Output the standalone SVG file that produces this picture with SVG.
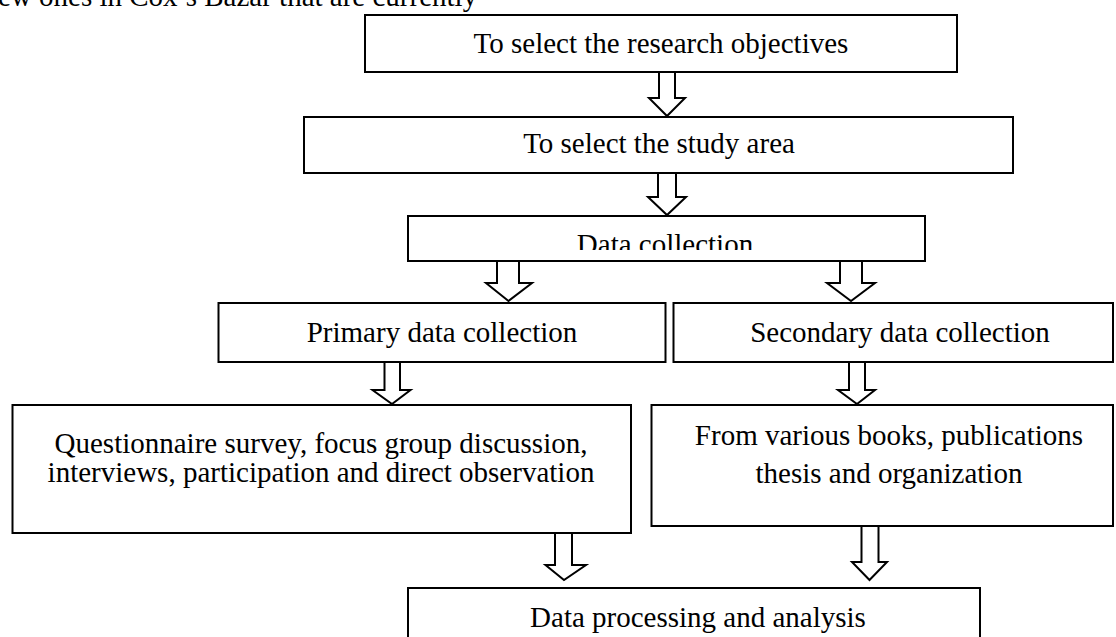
<svg xmlns="http://www.w3.org/2000/svg" width="1116" height="637" viewBox="0 0 1116 637">
<style>
.box{fill:#fff;stroke:#000;stroke-width:2}
.arr{fill:#fff;stroke:#000;stroke-width:2;stroke-linejoin:miter}
text{font-family:"Liberation Serif","Times New Roman",serif;font-size:29px;fill:#000}
.c{text-anchor:middle}
</style>
<defs>
<clipPath id="dcClip"><rect x="408" y="216" width="517" height="34"/></clipPath>
</defs>
<rect width="1116" height="637" fill="#fff"/>
<text x="-2" y="6">ew ones in Cox’s Bazar that are currently</text>
<g id="connectors">
<path class="arr" d="M659,72 V98 H649 L667,116 L685,98 H675 V72"/>
<path class="arr" d="M658,173 V197 H648 L667,215 L686,197 H676 V173"/>
<path class="arr" d="M497,261 V283 H486 L508.5,301 L532,283 H519 V261"/>
<path class="arr" d="M840,261 V283 H827 L851,301 L875,283 H862 V261"/>
<path class="arr" d="M384.5,362 V390 H372.5 L392,404 L410.5,390 H400 V362"/>
<path class="arr" d="M849,362 V390 H838 L857,404 L875,390 H865 V362"/>
<path class="arr" d="M555,533 V565 H545.5 L564,580 L586,565 H572 V533"/>
<path class="arr" d="M861.5,524 V562 H852 L869.5,580 L887,562 H878.5 V524 Z"/>
</g>
<g id="n1"><rect class="box" x="365" y="15" width="592" height="57"/><text class="c" x="661" y="53">To select the research objectives</text></g>
<g id="n2"><rect class="box" x="304" y="117" width="709" height="56"/><text class="c" x="659" y="153">To select the study area</text></g>
<g id="n3"><rect class="box" x="408" y="216" width="517" height="45"/><text class="c" x="665" y="254" clip-path="url(#dcClip)">Data collection</text></g>
<g id="n4"><rect class="box" x="218.5" y="303" width="447" height="59"/><text class="c" x="442" y="342">Primary data collection</text></g>
<g id="n5"><rect class="box" x="673.5" y="303" width="439.5" height="59"/><text class="c" x="900" y="342">Secondary data collection</text></g>
<g id="n6"><rect class="box" x="12.5" y="405" width="618.5" height="128"/><text class="c" x="321" y="453">Questionnaire survey, focus group discussion,</text><text class="c" x="321" y="482">interviews, participation and direct observation</text></g>
<g id="n7"><rect class="box" x="651.5" y="405" width="461.5" height="121"/><text class="c" x="889" y="445">From various books, publications</text><text class="c" x="889" y="483">thesis and organization</text></g>
<g id="n8"><rect class="box" x="408" y="588" width="572" height="70"/><text class="c" x="698" y="627">Data processing and analysis</text></g>
</svg>
